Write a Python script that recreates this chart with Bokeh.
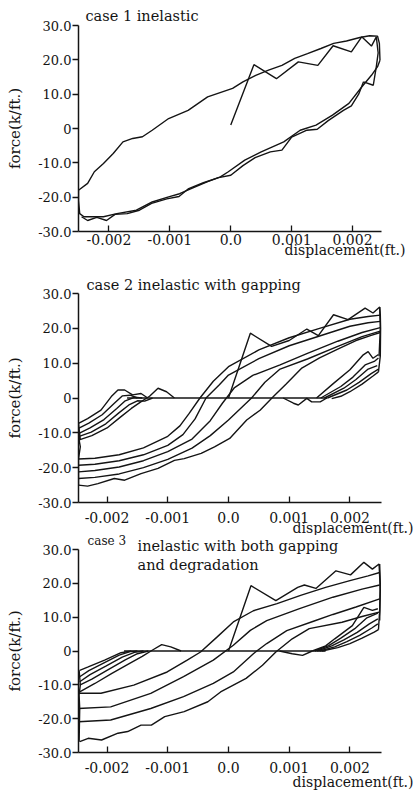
import math
from bokeh.plotting import figure
from bokeh.layouts import column
from bokeh.models import FixedTicker, Label, Title
from bokeh.embed import file_html
from bokeh.resources import INLINE

# ---------------- axis ticks (x in units of 0.001 ft) ----------------
x_ticks = [-2, -1, 0, 1, 2]
x_tick_labels = ["-0.002", "-0.001", "0.0", "0.001", "0.002"]
y_ticks = [-30, -20, -10, 0, 10, 20, 30]
y_tick_labels = ["-30.0", "-20.0", "-10.0", "0", "10.0", "20.0", "30.0"]

titles = ["case 1 inelastic", "case 2 inelastic with gapping", "case 3",
          "inelastic with both gapping", "and degradation"]
x_label = "displacement(ft.)"
y_label = "force(k/ft.)"

# ---------------- case 1 : inelastic ----------------
c1_upper_x = [-2.50, -2.35, -2.24, -2.09, -1.93, -1.77, -1.61, -1.45, -1.29, -1.02, -0.70, -0.38, 0.03,
              0.20, 0.41, 0.62, 0.84, 1.05, 1.26, 1.48, 1.69, 1.90, 2.12, 2.28, 2.41, 2.44, 2.45]
c1_upper_y = [-18.0, -16.0, -12.6, -10.2, -7.3, -3.9, -2.9, -2.4, -0.5, 2.9, 5.3, 9.2, 11.7,
              13.6, 15.5, 17.0, 18.4, 20.4, 21.8, 23.3, 24.8, 25.5, 26.5, 27.0, 26.9, 24.8, 19.9]
c1_lower_x = [2.45, 2.41, 2.31, 2.15, 1.94, 1.67, 1.40, 1.14, 0.87, 0.50, 0.23, -0.04, -0.17, -0.38,
              -0.65, -0.84, -1.02, -1.29, -1.55, -1.87, -2.09, -2.25, -2.41, -2.48, -2.50, -2.50]
c1_lower_y = [19.9, 18.0, 15.5, 12.1, 7.3, 3.9, 1.0, -0.5, -3.9, -6.8, -9.2, -12.6, -14.1, -15.5,
              -17.5, -19.0, -19.9, -21.4, -23.8, -24.8, -25.7, -25.7, -25.7, -24.8, -21.0, -18.0]
c1_first_x = [0.00, 0.38, 0.75, 1.11, 1.43, 1.68, 1.98, 2.15, 2.31, 2.39, 2.42, 2.39, 2.34, 2.18]
c1_first_y = [1.0, 18.6, 14.5, 19.4, 18.4, 24.1, 22.3, 26.7, 24.0, 26.7, 22.0, 18.0, 12.6, 13.6]
c1_wiggle_x = [2.18, 2.10, 1.98, 1.85, 1.60, 1.42, 1.25, 1.00, 0.84, 0.65, 0.40, 0.20, 0.00, -0.20,
               -0.45, -0.70, -0.85, -1.05, -1.30, -1.50, -1.70, -1.90, -2.04, -2.20, -2.35, -2.45]
c1_wiggle_y = [13.6, 10.0, 6.6, 5.3, 2.3, -0.2, -0.5, -2.5, -6.3, -6.8, -8.5, -10.8, -13.6, -14.3,
               -15.8, -17.6, -19.8, -20.5, -21.8, -23.8, -24.8, -25.0, -26.8, -25.9, -26.8, -25.7]

# ---------------- case 2 : inelastic with gapping ----------------
c2_first_x = [0.00, 0.36, 0.71, 1.00, 1.29, 1.48, 1.73, 1.97, 2.25, 2.38, 2.49, 2.50, 2.48]
c2_first_y = [0.0, 18.6, 14.8, 16.5, 19.8, 17.9, 23.9, 22.5, 25.8, 24.4, 26.1, 20.0, 12.0]
c2_up1_x = [-2.47, -2.2, -1.8, -1.4, -1.0, -0.8, -0.65, -0.47, -0.25, 0.0, 0.5, 1.0, 1.5, 2.0, 2.3, 2.5]
c2_up1_y = [-17.5, -17.3, -16.3, -14.3, -11.0, -8.0, -4.5, 0.0, 4.8, 9.0, 13.8, 17.3, 20.0, 22.6, 23.4, 23.8]
c2_up2_x = [-2.47, -2.2, -1.8, -1.4, -1.0, -0.75, -0.55, -0.37, -0.15, 0.0, 0.5, 1.0, 1.5, 2.0, 2.3, 2.5]
c2_up2_y = [-19.3, -19.0, -18.0, -16.3, -13.6, -10.5, -6.0, 0.0, 3.8, 6.6, 11.3, 15.0, 17.8, 20.6, 21.6, 22.0]
c2_up3_x = [-2.47, -2.2, -1.8, -1.4, -1.0, -0.6, -0.3, -0.1, 0.1, 0.4, 0.85, 1.3, 1.8, 2.2, 2.5]
c2_up3_y = [-21.2, -20.8, -19.8, -18.0, -15.4, -11.8, -6.5, -1.5, 3.0, 6.5, 9.5, 12.8, 16.3, 18.8, 20.2]
c2_up4_x = [-2.47, -2.2, -1.8, -1.4, -1.0, -0.6, -0.3, 0.0, 0.38, 0.6, 0.85, 1.3, 1.8, 2.2, 2.5]
c2_up4_y = [-23.1, -22.8, -21.8, -20.0, -17.6, -14.4, -10.8, -6.3, 0.0, 4.5, 8.3, 11.2, 14.8, 17.6, 19.2]
c2_up5_x = [-2.47, -2.32, -2.15, -1.88, -1.71, -1.44, -1.16, -0.89, -0.73, -0.45, -0.23, 0.02, 0.30,
            0.52, 0.74, 0.95, 1.2, 1.5, 1.8, 2.1, 2.35, 2.5]
c2_up5_y = [-25.0, -25.3, -24.6, -23.1, -23.6, -21.7, -20.2, -17.9, -17.4, -15.9, -14.0, -11.6, -6.3,
            -3.5, 0.4, 4.0, 8.5, 11.5, 14.0, 16.5, 18.0, 18.8]
c2_left1_x = [-2.47, -2.32, -2.10, -1.93, -1.82, -1.71, -1.58, -1.44, -1.33]
c2_left1_y = [-7.3, -5.9, -3.5, 0.4, 2.3, 2.3, 0.9, 1.3, 0.0]
c2_left2_x = [-2.47, -2.30, -2.08, -1.88, -1.75, -1.62, -1.50]
c2_left2_y = [-8.7, -7.2, -4.8, -1.5, 0.6, 0.8, 0.0]
c2_left3_x = [-2.47, -2.28, -2.05, -1.84, -1.70, -1.55, -1.42]
c2_left3_y = [-10.2, -8.6, -6.2, -3.0, -0.8, 0.2, 0.0]
c2_left4_x = [-2.47, -2.26, -2.02, -1.80, -1.64, -1.50, -1.38, -1.25]
c2_left4_y = [-11.1, -9.8, -7.4, -4.2, -2.0, -0.8, -0.9, 0.0]
c2_left5_x = [-2.47, -2.25, -2.00, -1.78, -1.60, -1.45, -1.30, -1.16, -1.02, -0.89]
c2_left5_y = [-12.1, -10.8, -8.6, -5.5, -3.0, -1.2, 0.5, 2.8, 1.8, 0.0]
c2_leftside_x = [-2.47, -2.44, -2.48, -2.44, -2.47, -2.47]
c2_leftside_y = [-7.3, -12.0, -10.0, -14.0, -17.5, -25.0]
c2_gap_x = [-1.67, 1.63]
c2_gap_y = [0.0, 0.0]
c2_dip_x = [0.90, 1.07, 1.15, 1.29, 1.37, 1.51, 1.62]
c2_dip_y = [0.0, -1.5, -2.0, -0.1, -1.1, -1.1, 0.0]
c2_right1_x = [1.45, 1.73, 2.00, 2.22, 2.30, 2.38, 2.47]
c2_right1_y = [0.0, 4.2, 8.1, 12.4, 13.3, 11.4, 12.5]
c2_right2_x = [1.52, 1.85, 2.05, 2.25, 2.40, 2.47]
c2_right2_y = [0.0, 3.3, 6.0, 9.5, 10.5, 11.5]
c2_right3_x = [1.58, 1.90, 2.10, 2.30, 2.45]
c2_right3_y = [0.0, 2.8, 5.3, 8.3, 9.3]
c2_right4_x = [1.63, 1.95, 2.15, 2.35, 2.47]
c2_right4_y = [0.0, 2.3, 4.5, 7.0, 8.3]
c2_right5_x = [1.70, 1.85, 2.00, 2.20, 2.38, 2.47]
c2_right5_y = [-0.2, 0.5, 1.8, 4.0, 6.3, 7.5]
c2_rightside_x = [2.47, 2.50, 2.51, 2.50, 2.49]
c2_rightside_y = [7.5, 12.0, 20.0, 24.0, 26.1]

# ---------------- case 3 : gapping and degradation ----------------
c3_first_x = [0.00, 0.37, 0.78, 1.14, 1.25, 1.44, 1.77, 2.01, 2.23, 2.37, 2.48, 2.50, 2.49]
c3_first_y = [0.0, 19.3, 14.9, 18.8, 19.5, 18.5, 23.7, 22.5, 26.2, 24.2, 25.7, 18.0, 9.0]
c3_up1_x = [-2.47, -2.1, -1.56, -1.01, -0.68, -0.46, -0.19, 0.08, 0.41, 0.8, 1.2, 1.6, 2.0, 2.3, 2.49]
c3_up1_y = [-12.5, -12.5, -10.1, -6.2, -2.7, -0.3, 4.1, 8.6, 11.9, 14.0, 16.5, 18.8, 20.8, 22.2, 23.2]
c3_up2_x = [-2.47, -1.94, -1.28, -0.74, -0.25, 0.08, 0.36, 0.63, 1.17, 1.72, 2.2, 2.49]
c3_up2_y = [-17.0, -16.5, -12.5, -7.6, -2.7, 1.7, 6.1, 9.0, 12.5, 15.9, 18.3, 19.5]
c3_up3_x = [-2.47, -1.94, -1.28, -0.74, -0.25, 0.08, 0.41, 0.63, 0.96, 1.4, 1.72, 2.1, 2.49]
c3_up3_y = [-20.9, -20.4, -17.0, -13.5, -9.6, -6.2, -0.8, 2.2, 6.0, 8.8, 10.8, 13.0, 15.4]
c3_up4_x = [-2.45, -2.31, -2.09, -1.82, -1.66, -1.44, -1.27, -1.05, -0.73, -0.34, -0.13, 0.29, 0.56,
            0.78, 1.05, 1.33, 1.87, 2.2, 2.48]
c3_up4_y = [-26.8, -25.8, -26.3, -24.3, -23.8, -21.9, -21.9, -19.4, -17.9, -15.0, -12.1, -8.1, -4.2,
            -0.3, 3.6, 6.6, 8.5, 10.2, 11.5]
c3_left1_x = [-2.45, -2.31, -2.04, -1.77, -1.60]
c3_left1_y = [-5.7, -4.7, -2.7, -0.5, 0.0]
c3_left2_x = [-2.45, -2.30, -2.05, -1.80, -1.62, -1.50]
c3_left2_y = [-7.6, -5.8, -3.5, -1.2, -0.2, 0.0]
c3_left3_x = [-2.45, -2.28, -2.02, -1.75, -1.55, -1.40]
c3_left3_y = [-9.1, -7.0, -4.5, -1.8, -0.4, 0.0]
c3_left4_x = [-2.45, -2.25, -1.98, -1.70, -1.50, -1.32]
c3_left4_y = [-10.1, -8.3, -5.5, -2.6, -0.8, 0.0]
c3_left5_x = [-2.45, -2.20, -1.92, -1.62, -1.42, -1.25, -1.10, -0.95, -0.78]
c3_left5_y = [-12.1, -9.6, -6.6, -3.6, -1.6, 0.3, 1.9, 1.2, 0.0]
c3_leftside_x = [-2.46, -2.44, -2.46, -2.45, -2.46]
c3_leftside_y = [-5.7, -10.0, -13.0, -17.0, -26.8]
c3_gap_x = [-1.72, 1.60]
c3_gap_y = [0.0, 0.0]
c3_dip_x = [0.84, 1.05, 1.22, 1.38]
c3_dip_y = [0.0, -0.8, -1.3, 0.0]
c3_right1_x = [1.38, 1.60, 1.75, 2.04, 2.23, 2.37, 2.46]
c3_right1_y = [0.0, 1.5, 3.6, 7.5, 12.9, 12.0, 12.5]
c3_right2_x = [1.42, 1.65, 1.85, 2.08, 2.28, 2.46]
c3_right2_y = [0.0, 1.6, 3.8, 6.6, 9.8, 11.2]
c3_right3_x = [1.46, 1.70, 1.90, 2.12, 2.32, 2.46]
c3_right3_y = [0.0, 1.5, 3.3, 5.5, 8.0, 9.5]
c3_right4_x = [1.50, 1.75, 1.95, 2.16, 2.36, 2.46]
c3_right4_y = [0.0, 1.2, 2.8, 4.6, 6.8, 8.0]
c3_right5_x = [1.54, 1.80, 2.00, 2.20, 2.40, 2.47]
c3_right5_y = [0.0, 1.0, 2.2, 3.8, 5.6, 6.3]
c3_rightside_x = [2.47, 2.49, 2.50, 2.49]
c3_rightside_y = [6.3, 12.0, 20.0, 25.7]

FONT = "DejaVu Serif"
INK = "#141414"


def make_panel(h, xr, b_top, b_bottom, b_right, curves, tick_standoff, xlab_standoff):
    p = figure(width=417, height=h, x_range=xr, y_range=(-30, 30),
               min_border_left=78, min_border_right=b_right,
               min_border_top=b_top, min_border_bottom=b_bottom,
               output_backend="svg", toolbar_location=None, title=None)
    p.grid.visible = False
    p.outline_line_color = None
    p.background_fill_color = "white"
    p.border_fill_color = "white"
    for ax in (p.xaxis[0], p.yaxis[0]):
        ax.axis_line_color = INK
        ax.axis_line_width = 1.5
        ax.major_tick_line_color = INK
        ax.major_tick_line_width = 1.3
        ax.minor_tick_line_color = None
        ax.major_label_text_font = FONT
        ax.major_label_text_color = INK
    p.xaxis.major_label_text_font_size = "14px"
    p.yaxis.major_label_text_font_size = "13px"
    p.xaxis.ticker = FixedTicker(ticks=x_ticks)
    p.xaxis.major_label_overrides = dict(zip(x_ticks, x_tick_labels))
    p.xaxis.major_tick_in = 6
    p.xaxis.major_tick_out = 0
    p.xaxis.major_label_standoff = tick_standoff
    p.yaxis.ticker = FixedTicker(ticks=y_ticks)
    p.yaxis.major_label_overrides = dict(zip(y_ticks, y_tick_labels))
    p.yaxis.major_tick_in = 0
    p.yaxis.major_tick_out = 6
    p.yaxis.major_label_standoff = 1
    p.yaxis.axis_label = y_label
    p.yaxis.axis_label_standoff = 11
    p.yaxis.axis_label_text_font = FONT
    p.yaxis.axis_label_text_font_size = "15px"
    p.yaxis.axis_label_text_font_style = "normal"
    p.yaxis.axis_label_text_color = INK
    for xs, ys in curves:
        p.line(xs, ys, line_color=INK, line_width=1.4)
    p.add_layout(Title(text=x_label, align="right", offset=-(413 - (417 - b_right)),
                       vertical_align="top", standoff=xlab_standoff,
                       text_font=FONT, text_font_size="14px", text_font_style="normal",
                       text_color=INK), "below")
    return p


def top_title(p, text, dx, standoff, size="14.5px"):
    p.add_layout(Title(text=text, align="left", offset=dx, vertical_align="bottom",
                       standoff=standoff, text_font=FONT, text_font_size=size,
                       text_font_style="normal", text_color=INK), "above")


xr1 = (-2.5, 2.475)
xr23 = (-2.47, 2.52)

p1 = make_panel(262, xr1, 25, 31, 28,
                [(c1_upper_x, c1_upper_y), (c1_lower_x, c1_lower_y),
                 (c1_first_x, c1_first_y), (c1_wiggle_x, c1_wiggle_y)],
                2, -11)
top_title(p1, titles[0], 7, 4)

p2 = make_panel(273, xr23, 31, 33, 36,
                [(c2_first_x, c2_first_y), (c2_up1_x, c2_up1_y), (c2_up2_x, c2_up2_y),
                 (c2_up3_x, c2_up3_y), (c2_up4_x, c2_up4_y), (c2_up5_x, c2_up5_y),
                 (c2_left1_x, c2_left1_y), (c2_left2_x, c2_left2_y), (c2_left3_x, c2_left3_y),
                 (c2_left4_x, c2_left4_y), (c2_left5_x, c2_left5_y), (c2_leftside_x, c2_leftside_y),
                 (c2_gap_x, c2_gap_y), (c2_dip_x, c2_dip_y),
                 (c2_right1_x, c2_right1_y), (c2_right2_x, c2_right2_y), (c2_right3_x, c2_right3_y),
                 (c2_right4_x, c2_right4_y), (c2_right5_x, c2_right5_y),
                 (c2_rightside_x, c2_rightside_y)],
                9, -12)
top_title(p2, titles[1], 8, 2)

p3 = make_panel(256, xr23, 14, 39, 36,
                [(c3_first_x, c3_first_y), (c3_up1_x, c3_up1_y), (c3_up2_x, c3_up2_y),
                 (c3_up3_x, c3_up3_y), (c3_up4_x, c3_up4_y),
                 (c3_left1_x, c3_left1_y), (c3_left2_x, c3_left2_y), (c3_left3_x, c3_left3_y),
                 (c3_left4_x, c3_left4_y), (c3_left5_x, c3_left5_y), (c3_leftside_x, c3_leftside_y),
                 (c3_gap_x, c3_gap_y), (c3_dip_x, c3_dip_y),
                 (c3_right1_x, c3_right1_y), (c3_right2_x, c3_right2_y), (c3_right3_x, c3_right3_y),
                 (c3_right4_x, c3_right4_y), (c3_right5_x, c3_right5_y),
                 (c3_rightside_x, c3_rightside_y)],
                9, -4)
top_title(p3, titles[3], 59, -8)
top_title(p3, titles[2], 9, -16, "12px")
p3.add_layout(Label(x=xr23[0], y=30, x_offset=59, y_offset=-15, text=titles[4],
                    text_font=FONT, text_font_size="14.5px", text_color=INK,
                    text_align="left", text_baseline="middle"))

layout = column(p1, p2, p3)
open("out.html", "w").write(file_html(layout, INLINE))
